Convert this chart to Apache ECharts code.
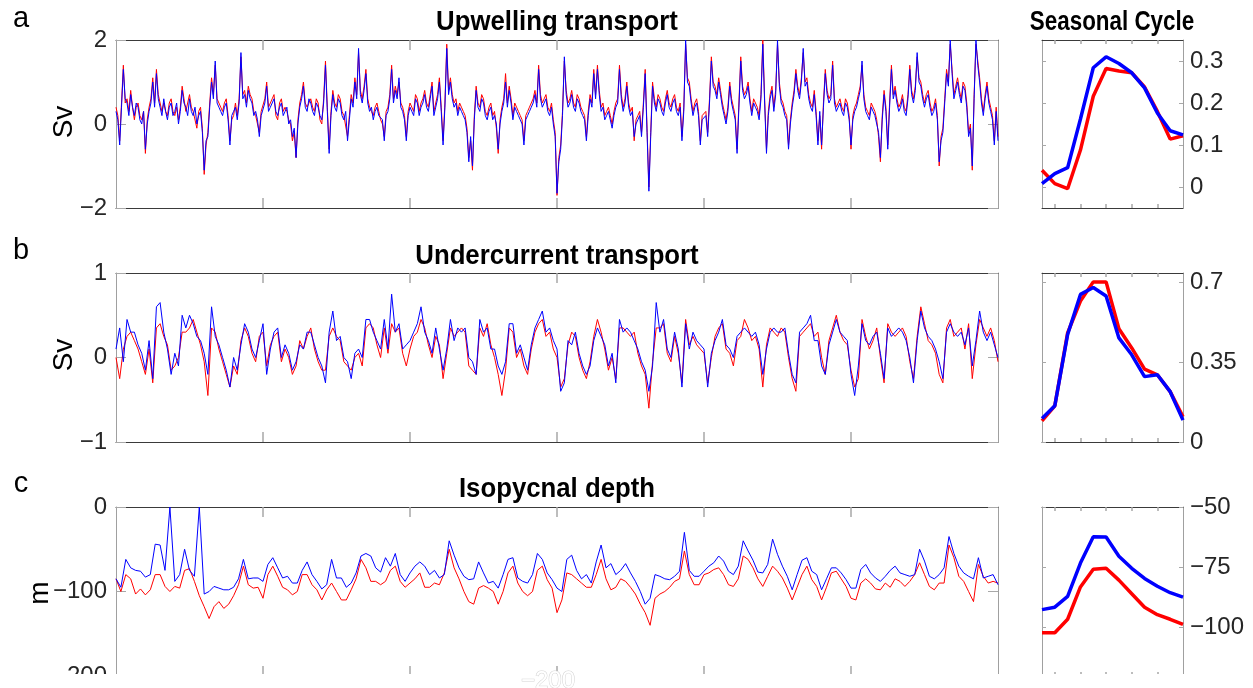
<!DOCTYPE html>
<html>
<head>
<meta charset="utf-8">
<script src="https://cdn.jsdelivr.net/npm/echarts@6/dist/echarts.min.js"></script>
<style>
  html, body { margin: 0; padding: 0; background: #fff; }
  #chart { width: 1253px; height: 688px; }
</style>
</head>
<body>
<div id="chart"></div>
<script>
// time series (x runs 0..6 between the outer ticks)
var upBlue = [
  0.3,0.1,-0.5,0.4,1.3,0.6,0.5,0.2,0.7,0.4,0.2,0.5,0.4,0.1,0.0,0.3,-0.6,0.0,0.3,0.5,
  1.0,0.4,1.2,0.6,0.4,0.2,0.6,0.3,0.1,0.4,0.5,0.2,0.3,0.5,0.0,0.3,0.8,0.5,0.4,0.2,
  0.6,0.3,0.2,0.4,0.0,0.2,0.3,-0.2,-1.1,-0.4,-0.3,0.4,1.0,0.6,1.5,0.5,0.4,0.3,0.2,0.4,
  0.5,0.1,-0.5,0.2,0.3,0.4,0.1,0.5,1.7,0.6,0.7,0.4,0.8,0.6,0.5,0.2,0.3,0.1,-0.3,0.2,
  0.2,0.5,0.9,0.3,0.4,0.5,0.6,0.3,0.2,0.4,0.5,0.2,0.3,0.4,0.0,0.1,-0.3,-0.1,-0.8,0.0,
  0.4,0.6,0.9,0.4,0.3,0.6,0.5,0.3,0.2,0.5,0.4,0.2,0.1,0.5,1.4,0.3,-0.7,0.2,0.7,0.4,
  0.3,0.6,0.5,0.2,0.1,0.3,-0.4,0.1,0.6,0.4,1.0,0.6,1.8,0.7,0.5,0.8,1.2,0.5,0.3,0.4,
  0.1,0.3,0.4,0.2,0.2,0.1,-0.4,0.2,0.3,0.6,1.3,0.5,0.8,0.6,1.1,0.4,0.3,0.1,-0.4,0.2,
  0.4,0.3,0.2,0.6,0.5,0.2,0.4,0.5,0.7,0.4,0.3,0.6,0.9,0.2,0.4,0.6,1.0,0.3,-0.5,0.4,
  1.8,0.7,1.0,0.6,0.4,0.5,0.2,0.4,0.3,0.2,0.1,-0.2,-0.9,-0.3,-1.0,0.1,0.8,0.4,0.3,0.6,
  0.5,0.2,0.1,0.3,0.4,0.1,0.2,0.0,-0.6,0.0,0.3,0.5,1.0,0.4,0.8,0.5,0.1,0.4,0.3,0.2,
  0.1,0.0,-0.5,0.1,0.2,0.3,0.4,0.5,0.7,0.4,1.3,0.6,0.4,0.5,0.6,0.3,0.2,0.4,0.0,-0.3,
  -1.65,-0.9,-0.6,0.2,1.6,0.7,0.4,0.5,0.7,0.4,0.3,0.6,0.5,0.3,0.2,0.1,-0.4,0.2,0.6,0.4,
  1.2,0.6,1.3,0.7,0.3,0.4,0.1,0.2,0.3,0.1,-0.1,0.2,0.4,0.5,1.3,0.6,0.3,0.5,0.9,0.4,
  0.2,0.3,-0.3,0.0,0.1,0.2,-0.3,0.4,1.2,-0.2,-1.6,-0.3,0.9,0.5,0.3,0.6,0.5,0.3,0.2,0.5,
  0.7,0.4,0.3,0.5,0.6,0.3,0.2,0.4,-0.4,0.3,2.0,1.0,0.9,0.5,0.2,0.4,0.5,0.2,-0.5,0.1,
  0.1,0.2,-0.3,0.5,1.5,0.9,0.8,0.6,1.0,0.7,0.4,0.2,0.0,0.3,0.9,0.5,0.3,0.1,-0.7,0.4,
  1.5,0.8,0.6,0.7,0.9,0.5,0.2,0.5,0.4,0.3,0.1,0.6,1.9,0.5,-0.7,0.2,0.6,0.8,0.3,0.7,
  2.0,0.9,0.5,0.4,0.2,0.1,-0.6,0.0,0.4,0.7,1.2,0.8,0.6,1.0,1.8,0.9,1.0,0.6,0.4,0.3,
  0.7,0.2,-0.5,0.3,-0.5,0.4,1.2,0.7,0.5,0.6,1.4,0.5,0.3,0.4,0.5,0.3,0.2,0.5,0.4,0.1,
  -0.5,0.1,0.3,0.4,0.6,0.8,1.5,0.6,0.3,0.2,0.1,0.4,0.3,0.2,0.0,-0.2,-0.8,0.1,0.7,0.3,
  -0.6,0.4,1.3,0.6,0.8,0.5,0.3,0.4,0.6,0.3,0.2,0.6,1.3,0.7,0.5,0.8,1.7,1.0,0.9,0.6,
  0.4,0.6,0.7,0.4,0.2,0.3,0.5,0.1,-0.9,-0.4,-0.2,0.5,1.2,0.9,2.0,1.2,0.6,0.8,1.0,0.7,
  0.5,0.9,0.8,0.4,-0.3,-0.1,-1.0,0.6,2.0,1.4,1.0,0.5,0.2,0.6,0.9,0.5,0.3,0.1,-0.5,0.3,
  -0.4
];
var upRed = [
  0.4,0.2,-0.4,0.5,1.4,0.5,0.6,0.3,0.8,0.4,0.1,0.4,0.5,0.2,0.1,0.3,-0.7,0.1,0.4,0.6,
  1.1,0.5,1.3,0.7,0.5,0.3,0.5,0.3,0.2,0.5,0.6,0.3,0.2,0.4,0.1,0.4,0.9,0.6,0.3,0.3,
  0.7,0.4,0.3,0.3,-0.1,0.3,0.4,-0.1,-1.2,-0.5,-0.2,0.5,1.1,0.7,1.4,0.6,0.5,0.4,0.3,0.5,
  0.6,0.2,-0.4,0.1,0.2,0.5,0.2,0.6,1.6,0.7,0.8,0.5,0.9,0.7,0.6,0.3,0.2,0.0,-0.2,0.3,
  0.3,0.6,1.0,0.4,0.5,0.6,0.7,0.2,0.1,0.5,0.6,0.3,0.4,0.3,0.1,0.0,-0.4,-0.2,-0.8,0.1,
  0.5,0.7,1.0,0.5,0.4,0.5,0.6,0.4,0.3,0.6,0.5,0.1,0.0,0.6,1.5,0.4,-0.6,0.3,0.8,0.5,
  0.4,0.7,0.6,0.3,0.2,0.2,-0.3,0.2,0.7,0.5,1.1,0.7,1.7,0.8,0.6,0.9,1.3,0.6,0.4,0.3,
  0.2,0.4,0.5,0.3,0.1,0.0,-0.3,0.3,0.4,0.7,1.4,0.6,0.9,0.7,1.0,0.5,0.4,0.2,-0.3,0.3,
  0.5,0.4,0.3,0.7,0.6,0.3,0.5,0.6,0.8,0.5,0.4,0.7,1.0,0.3,0.5,0.7,1.1,0.4,-0.4,0.5,
  1.9,0.8,1.1,0.7,0.5,0.6,0.3,0.5,0.4,0.3,0.2,-0.1,-0.8,-0.4,-1.1,0.2,0.9,0.5,0.4,0.7,
  0.6,0.3,0.2,0.4,0.5,0.2,0.3,-0.1,-0.7,0.1,0.4,0.6,1.2,0.5,0.9,0.6,0.2,0.5,0.4,0.3,
  0.2,0.1,-0.4,0.2,0.3,0.4,0.5,0.6,0.8,0.5,1.4,0.7,0.5,0.6,0.7,0.4,0.3,0.5,0.1,-0.2,
  -1.7,-0.8,-0.5,0.3,1.5,0.8,0.5,0.6,0.8,0.5,0.4,0.7,0.6,0.4,0.3,0.2,-0.3,0.3,0.7,0.5,
  1.3,0.7,1.4,0.8,0.4,0.5,0.2,0.3,0.4,0.2,0.0,0.3,0.5,0.6,1.4,0.7,0.4,0.6,1.0,0.5,
  0.3,0.4,-0.4,0.1,0.2,0.3,-0.2,0.5,1.3,-0.1,-1.5,-0.2,1.0,0.6,0.4,0.7,0.6,0.4,0.3,0.6,
  0.8,0.5,0.4,0.6,0.7,0.4,0.3,0.5,-0.3,0.4,1.9,1.1,1.0,0.6,0.3,0.5,0.6,0.3,-0.4,0.2,
  0.2,0.3,-0.2,0.6,1.6,1.0,0.9,0.7,1.1,0.8,0.5,0.3,0.1,0.4,1.0,0.6,0.4,0.2,-0.6,0.5,
  1.6,0.9,0.7,0.8,1.0,0.6,0.3,0.6,0.5,0.4,0.2,0.7,2.0,0.6,-0.6,0.3,0.7,0.9,0.4,0.8,
  1.9,1.0,0.6,0.5,0.3,0.2,-0.5,0.1,0.5,0.8,1.3,0.9,0.7,1.1,1.7,1.0,1.1,0.7,0.5,0.4,
  0.8,0.3,-0.4,0.2,-0.6,0.5,1.3,0.8,0.6,0.7,1.5,0.6,0.4,0.5,0.6,0.4,0.3,0.6,0.5,0.2,
  -0.6,0.2,0.4,0.5,0.7,0.9,1.4,0.7,0.4,0.3,0.2,0.5,0.4,0.3,0.1,-0.3,-0.9,0.2,0.8,0.4,
  -0.5,0.5,1.4,0.7,0.9,0.6,0.4,0.5,0.7,0.4,0.3,0.7,1.4,0.8,0.6,0.9,1.6,1.1,1.0,0.7,
  0.5,0.7,0.8,0.5,0.3,0.4,0.6,0.2,-1.0,-0.3,-0.1,0.6,1.3,1.0,1.9,1.3,0.7,0.9,1.1,0.8,
  0.6,1.0,0.9,0.5,-0.2,0.0,-1.1,0.7,1.9,1.5,1.1,0.6,0.3,0.7,1.0,0.6,0.4,0.2,-0.4,0.4,
  -0.3
];
var underBlue = [
  0.1,0.35,-0.05,0.45,0.3,0.3,0.15,0.05,-0.15,0.2,
  -0.25,0.6,0.65,0.3,0.1,-0.2,0.05,-0.1,0.5,0.35,
  0.5,0.4,0.25,0.2,0.05,-0.2,0.6,0.25,0.15,0.0,
  -0.15,-0.35,0.0,-0.15,0.15,0.4,0.3,0.1,0.0,0.2,
  0.4,-0.2,0.1,0.3,0.35,0.0,0.15,0.05,-0.15,-0.05,
  0.15,0.1,0.3,0.3,0.15,0.0,-0.1,-0.3,0.3,0.55,
  0.2,0.25,0.0,-0.05,-0.25,0.05,0.1,0.0,0.45,0.45,
  0.3,0.2,0.1,0.45,0.1,0.75,0.3,0.4,0.1,0.15,
  0.2,0.3,0.4,0.6,0.3,0.2,0.05,0.35,0.1,-0.15,
  0.1,0.45,0.2,0.35,0.3,0.35,0.0,-0.05,-0.2,0.45,
  0.3,0.35,0.1,0.1,-0.1,-0.2,-0.05,0.4,0.4,0.05,
  0.15,0.0,-0.15,0.15,0.35,0.45,0.55,0.3,0.35,0.2,
  0.1,-0.4,-0.3,0.2,0.15,0.3,0.05,-0.1,-0.2,-0.1,
  0.2,0.35,0.25,0.15,-0.1,0.05,-0.3,0.45,0.3,0.35,
  0.3,0.2,0.1,-0.05,-0.15,-0.4,-0.1,0.65,0.3,0.45,
  0.1,0.0,0.3,0.1,-0.35,0.4,0.1,0.3,0.2,0.15,
  0.1,-0.35,0.05,0.2,0.3,0.45,0.15,0.1,0.0,0.25,
  0.3,0.35,0.3,0.25,0.3,0.15,-0.2,0.1,0.3,0.35,
  0.3,0.3,0.35,0.05,-0.2,-0.3,0.3,0.35,0.4,0.5,
  0.2,0.2,-0.1,-0.2,0.15,0.3,0.45,0.3,0.25,0.2,
  -0.2,-0.45,-0.1,0.4,0.2,0.15,0.25,0.3,0.05,-0.25,
  0.35,0.25,0.3,0.35,0.3,0.2,0.0,-0.3,0.2,0.55,
  0.35,0.25,0.2,0.1,-0.05,-0.25,0.3,0.4,0.3,0.25,
  0.3,0.15,0.35,-0.1,0.2,0.55,0.3,0.2,0.3,0.15,
  0.0
];
var underRed = [
  0.0,-0.25,0.1,0.25,0.3,0.2,0.1,-0.05,-0.2,0.1,
  -0.3,0.35,0.4,0.25,0.15,-0.15,-0.1,0.0,0.3,0.3,
  0.35,0.45,0.3,0.15,-0.05,-0.45,0.35,0.3,0.1,-0.05,
  -0.2,-0.35,-0.1,-0.2,0.2,0.35,0.25,0.05,-0.05,0.25,
  0.3,-0.1,0.15,0.25,0.3,-0.05,0.1,0.0,-0.2,-0.1,
  0.2,0.1,0.25,0.35,0.1,-0.05,-0.15,-0.15,0.25,0.35,
  0.25,0.2,-0.05,-0.1,-0.15,0.0,0.05,-0.1,0.35,0.4,
  0.35,0.15,0.0,0.35,0.05,0.4,0.3,0.35,0.05,-0.1,
  0.1,0.25,0.3,0.45,0.35,0.15,0.0,0.25,0.15,-0.25,
  0.05,0.35,0.25,0.3,0.35,0.3,-0.1,-0.15,-0.2,0.35,
  0.25,0.4,0.15,0.0,-0.2,-0.45,-0.15,0.35,0.3,0.0,
  0.1,-0.1,-0.2,0.1,0.3,0.4,0.45,0.25,0.3,0.1,
  0.0,-0.35,-0.25,0.15,0.3,0.25,0.0,-0.15,-0.25,-0.05,
  0.25,0.45,0.3,0.1,-0.15,0.0,-0.25,0.35,0.35,0.3,
  0.25,0.3,0.05,-0.1,-0.2,-0.6,-0.05,0.35,0.35,0.4,
  0.05,-0.05,0.25,0.05,-0.3,0.45,0.15,0.25,0.15,0.1,
  0.05,-0.3,0.0,0.25,0.35,0.4,0.1,0.05,-0.1,0.2,
  0.25,0.45,0.35,0.2,0.25,0.1,-0.35,0.15,0.35,0.3,
  0.25,0.35,0.3,0.0,-0.25,-0.4,0.25,0.3,0.35,0.4,
  0.25,0.3,0.0,-0.2,0.2,0.35,0.5,0.3,0.2,0.15,
  -0.15,-0.35,-0.25,0.45,0.25,0.1,0.2,0.35,0.0,-0.3,
  0.4,0.3,0.25,0.3,0.35,0.25,-0.05,-0.25,0.25,0.6,
  0.4,0.2,0.15,0.05,-0.2,-0.3,0.35,0.45,0.25,0.3,
  0.35,0.1,0.4,-0.25,0.15,0.45,0.35,0.25,0.35,0.2,
  -0.05
];
var isoBlue = [
  -85,-95,-62,-72,-75,-76,-83,-80,-44,-45,
  -75,0,-88,-80,-50,-75,-82,0,-103,-100,
  -94,-96,-98,-98,-95,-85,-62,-85,-84,-84,
  -88,-68,-60,-72,-84,-82,-90,-90,-75,-65,
  -80,-88,-97,-92,-62,-84,-84,-95,-90,-78,
  -58,-55,-58,-72,-77,-60,-70,-55,-80,-88,
  -78,-70,-65,-70,-80,-75,-84,-80,-40,-57,
  -72,-82,-86,-85,-65,-78,-90,-88,-96,-80,
  -62,-60,-84,-88,-90,-80,-55,-62,-78,-86,
  -96,-100,-62,-57,-75,-85,-80,-90,-65,-45,
  -72,-67,-80,-75,-67,-78,-88,-100,-115,-108,
  -80,-82,-85,-86,-82,-76,-30,-75,-82,-82,
  -76,-70,-66,-58,-64,-76,-80,-70,-40,-52,
  -63,-77,-78,-68,-38,-56,-70,-82,-98,-80,
  -63,-60,-76,-80,-98,-85,-72,-72,-78,-86,
  -96,-96,-74,-68,-78,-84,-88,-82,-75,-70,
  -78,-80,-82,-80,-50,-64,-82,-85,-80,-72,
  -35,-55,-70,-78,-82,-85,-60,-84,-82,-80,
  -92
];
var isoRed = [
  -85,-100,-80,-85,-103,-97,-104,-98,-80,-80,
  -94,-100,-94,-96,-75,-73,-88,-105,-118,-132,
  -118,-112,-120,-115,-105,-92,-70,-92,-96,-95,
  -108,-80,-70,-82,-95,-98,-104,-100,-80,-80,
  -92,-98,-110,-98,-90,-100,-110,-110,-98,-85,
  -62,-72,-88,-88,-92,-88,-75,-70,-88,-95,
  -90,-85,-78,-95,-95,-90,-92,-78,-50,-72,
  -85,-100,-112,-115,-96,-93,-96,-100,-115,-100,
  -78,-70,-90,-100,-105,-100,-75,-70,-86,-96,
  -125,-110,-78,-80,-85,-90,-95,-95,-80,-62,
  -85,-98,-95,-85,-88,-95,-103,-115,-125,-140,
  -108,-103,-100,-95,-88,-85,-52,-80,-92,-92,
  -80,-78,-74,-72,-80,-92,-94,-85,-58,-62,
  -72,-85,-94,-82,-70,-76,-84,-96,-110,-95,
  -80,-70,-86,-94,-110,-95,-78,-76,-85,-94,
  -108,-110,-90,-85,-90,-97,-98,-90,-95,-85,
  -88,-94,-88,-80,-66,-80,-94,-98,-90,-90,
  -45,-60,-82,-88,-100,-112,-68,-82,-90,-88,
  -90
];

// seasonal cycle, month 1..12
var months = [1,2,3,4,5,6,7,8,9,10,11,12];
var upSeasBlue = [0.008,0.032,0.046,0.162,0.284,0.310,0.294,0.272,0.236,0.176,0.134,0.124];
var upSeasRed = [0.040,0.008,-0.004,0.088,0.216,0.282,0.276,0.272,0.238,0.180,0.114,0.122];
var underSeasBlue = [0.103,0.159,0.472,0.648,0.678,0.641,0.457,0.383,0.287,0.295,0.221,0.096];
var underSeasRed = [0.093,0.159,0.479,0.619,0.703,0.703,0.497,0.413,0.320,0.295,0.221,0.111];
var isoSeasBlue = [-92.5,-91.5,-87,-73.2,-62.3,-62.4,-70.4,-75.4,-79.6,-82.8,-85.5,-87.3];
var isoSeasRed = [-102.1,-102.1,-96.5,-83.1,-75.8,-75.4,-80.3,-85.9,-91.5,-94.6,-96.5,-98.6];

// axis tick values
var mainXTicks = [1,2,3,4,5];
var seasXTicks = [2,4,6,8,10];
var upTicks = [-2,0,2];
var underTicks = [-1,0,1];
var isoTicks = [-200,-100,0];
var upSeasTicks = [0,0.1,0.2,0.3];
var underSeasTicks = [0,0.35,0.7];
var isoSeasTicks = [-100,-75,-50];

var FONT = '"Liberation Sans", Arial, sans-serif';

function toXY(arr, perTick) {
    return arr.map(function (v, i) { return [i / perTick, v]; });
}
function seasXY(arr) {
    return arr.map(function (v, i) { return [months[i], v]; });
}
function minus(v) { return String(v).replace('-', '\u2212'); }

var grids = [
    {left: 116, top: 40, width: 882, height: 168},
    {left: 116, top: 273, width: 882, height: 169},
    {left: 116, top: 507, width: 882, height: 169},
    {left: 1042, top: 40, width: 141, height: 168},
    {left: 1042, top: 273, width: 141, height: 169},
    {left: 1042, top: 507, width: 141, height: 169}
];

var xAxes = [], yAxes = [];
var yRanges = [[-2, 2], [-1, 1], [-200, 0], [-0.05, 0.35], [0, 0.742], [-120, -50]];
var yTicks = [upTicks, underTicks, isoTicks, upSeasTicks, underSeasTicks, isoSeasTicks];

grids.forEach(function (g, k) {
    var seas = k >= 3;
    ['bottom', 'top'].forEach(function (pos) {
        xAxes.push({
            type: 'value', gridIndex: k, position: pos,
            min: seas ? 1 : 0, max: seas ? 12 : 6,
            splitLine: {show: false},
            axisLine: {show: true, onZero: false, lineStyle: {color: '#3a3a3a', width: 1}},
            axisTick: {show: true, inside: true, length: seas ? 4 : 10,
                customValues: seas ? seasXTicks : mainXTicks,
                lineStyle: {color: '#a8a8a8', width: 1.5}},
            axisLabel: {show: false}
        });
    });
    ['left', 'right'].forEach(function (pos) {
        var labelled = seas ? pos === 'right' : pos === 'left';
        yAxes.push({
            type: 'value', gridIndex: k, position: pos,
            min: yRanges[k][0], max: yRanges[k][1],
            splitLine: {show: false},
            axisLine: {show: true, onZero: false, lineStyle: {color: '#a0a0a0', width: 1}},
            axisTick: {show: true, inside: true, length: seas ? 4 : 10,
                customValues: yTicks[k], lineStyle: {color: '#a8a8a8', width: 1}},
            axisLabel: {show: labelled, customValues: yTicks[k], margin: seas ? 7 : 9,
                color: '#262626', fontSize: 24, fontFamily: FONT,
                formatter: minus}
        });
    });
});

function line(data, color, k, width) {
    return {
        type: 'line', data: data, xAxisIndex: 2 * k, yAxisIndex: 2 * k,
        symbol: 'none', animation: false, silent: true,
        lineStyle: {color: color, width: width}
    };
}

var series = [
    line(toXY(upRed, 80), '#ff0000', 0, 1),
    line(toXY(upBlue, 80), '#0000ff', 0, 1),
    line(toXY(underRed, 40), '#ff0000', 1, 1),
    line(toXY(underBlue, 40), '#0000ff', 1, 1),
    line(toXY(isoRed, 30), '#ff0000', 2, 1),
    line(toXY(isoBlue, 30), '#0000ff', 2, 1),
    line(seasXY(upSeasRed), '#ff0000', 3, 3.5),
    line(seasXY(upSeasBlue), '#0000ff', 3, 3.5),
    line(seasXY(underSeasRed), '#ff0000', 4, 3.5),
    line(seasXY(underSeasBlue), '#0000ff', 4, 3.5),
    line(seasXY(isoSeasRed), '#ff0000', 5, 3.5),
    line(seasXY(isoSeasBlue), '#0000ff', 5, 3.5)
];

function txt(s, x, y, size, bold, extra) {
    var o = {
        type: 'text', x: x, y: y, z: 50,
        style: {text: s, fill: '#000', align: 'center', verticalAlign: 'middle',
            font: (bold ? 'bold ' : '') + size + 'px ' + FONT}
    };
    if (extra) { for (var key in extra) o[key] = extra[key]; }
    return o;
}

var narrow = {scaleX: 0.92};
var graphics = [
    txt('Upwelling transport', 557, 22, 28, true, narrow),
    txt('Undercurrent transport', 557, 256, 28, true, narrow),
    txt('Isopycnal depth', 557, 489, 28, true, narrow),
    txt('Seasonal Cycle', 1112, 22, 28, true, {scaleX: 0.8}),
    txt('a', 21, 19, 29, false),
    txt('b', 21, 251, 29, false),
    txt('c', 21, 484, 29, false),
    txt('Sv', 64, 122, 28, false, {rotation: Math.PI / 2}),
    txt('Sv', 64, 355, 28, false, {rotation: Math.PI / 2}),
    txt('m', 40, 593, 28, false, {rotation: Math.PI / 2}),
    // the picture is cut off along its bottom edge
    {type: 'rect', z: 90, shape: {x: 0, y: 674, width: 1253, height: 14}, style: {fill: '#fff'}},
    {type: 'text', z: 91, x: 548, y: 681,
        style: {text: '\u2212200', fill: '#fff', stroke: '#d4d4d4', lineWidth: 1,
            align: 'center', verticalAlign: 'middle', font: '24px ' + FONT}}
];

var chart = echarts.init(document.getElementById('chart'));
chart.setOption({
    backgroundColor: '#fff',
    animation: false,
    grid: grids,
    xAxis: xAxes,
    yAxis: yAxes,
    series: series,
    graphic: graphics
});
</script>
</body>
</html>
